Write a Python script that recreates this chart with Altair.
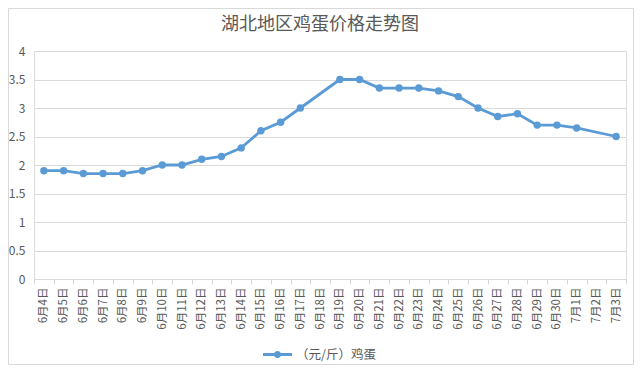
import altair as alt
import pandas as pd

categories = ["6月4日", "6月5日", "6月6日", "6月7日", "6月8日", "6月9日", "6月10日",
              "6月11日", "6月12日", "6月13日", "6月14日", "6月15日", "6月16日", "6月17日",
              "6月18日", "6月19日", "6月20日", "6月21日", "6月22日", "6月23日", "6月24日",
              "6月25日", "6月26日", "6月27日", "6月28日", "6月29日", "6月30日",
              "7月1日", "7月2日", "7月3日"]
prices = [1.9, 1.9, 1.85, 1.85, 1.85, 1.9, 2.0,
          2.0, 2.1, 2.15, 2.3, 2.6, 2.75, 3.0,
          None, 3.5, 3.5, 3.35, 3.35, 3.35, 3.3,
          3.2, 3.0, 2.85, 2.9, 2.7, 2.7,
          2.65, None, 2.5]
series_name = "（元/斤）鸡蛋"
chart_title = "湖北地区鸡蛋价格走势图"
y_ticks = [0, 0.5, 1, 1.5, 2, 2.5, 3, 3.5, 4]

df = pd.DataFrame({"date": categories, "price": prices, "series": series_name})
df = df.dropna(subset=["price"])

BLUE = "#5b9bd5"
GRAY = "#595959"
GRID = "#d9d9d9"
FONT = "Noto Sans CJK SC"

x_enc = alt.X("date:N", sort=categories,
              scale=alt.Scale(domain=categories, paddingInner=0, paddingOuter=0),
              axis=alt.Axis(title=None, labelAngle=-90, labelColor=GRAY, labelFontSize=11.5,
                            labelFont=FONT, domainColor=GRID, tickColor=GRID, tickSize=5,
                            tickBand="extent", labelPadding=3, grid=False, labelFlush=False,
                            labelOverlap=False))
y_enc = alt.Y("price:Q", scale=alt.Scale(domain=[0, 4], nice=False, zero=True),
              axis=alt.Axis(title=None, values=y_ticks, format="~g", labelColor=GRAY,
                            labelFontSize=12, labelFont=FONT, domain=False, ticks=False,
                            gridColor=GRID, labelPadding=9))

legend_path = ("M-1,-0.1H1V0.1H-1Z "
               "M0.25,0A0.25,0.25,0,1,1,-0.25,0A0.25,0.25,0,1,1,0.25,0Z")

base = alt.Chart(df)
line = base.mark_line(color=BLUE, strokeWidth=2.8).encode(x=x_enc, y=y_enc)
points = base.mark_point(filled=True, size=55, opacity=1).encode(
    x=x_enc, y=y_enc,
    color=alt.Color("series:N", scale=alt.Scale(range=[BLUE]),
                    legend=alt.Legend(title=None, orient="none", legendX=229, legendY=289,
                                      symbolType=legend_path, symbolSize=841,
                                      symbolFillColor=BLUE, symbolStrokeWidth=0,
                                      labelColor=GRAY, labelFontSize=12.5, labelFont=FONT,
                                      labelOffset=4)))

frame = alt.Chart(pd.DataFrame({"k": [0]})).mark_rect(
    fill=None, stroke=GRID, strokeWidth=1).encode(
    x=alt.value(-25.5), x2=alt.value(599.5), y=alt.value(-42.5), y2=alt.value(313.5))

title = alt.Chart(pd.DataFrame({"t": [chart_title]})).mark_text(
    fontSize=18, font=FONT, color=GRAY, align="center", baseline="alphabetic").encode(
    text="t:N", x=alt.value(286), y=alt.value(-21.5))

chart = alt.layer(frame, title, line, points).properties(
    width=592, height=228,
    autosize=alt.AutoSizeParams(type="none"),
    padding={"left": 26, "top": 43, "right": 8, "bottom": 86},
).configure_view(stroke=None).configure(background="white")

chart.save("out.html", embed_options={"renderer": "svg", "actions": False})
